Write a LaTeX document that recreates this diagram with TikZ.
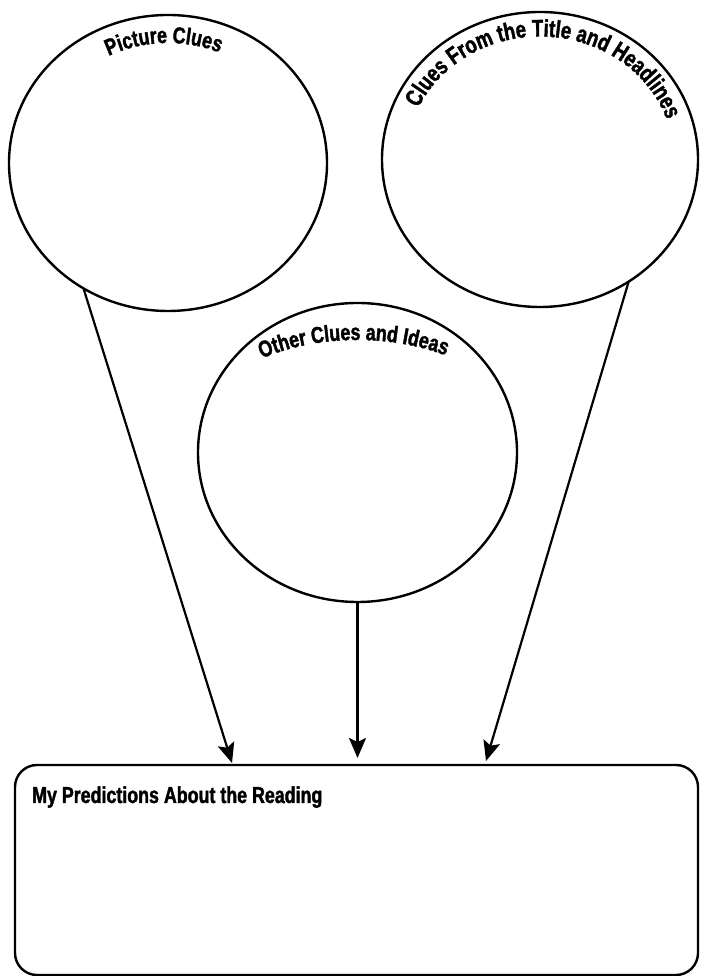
\documentclass[tikz,border=0pt]{standalone}
\usepackage{fontspec}
\usetikzlibrary{shapes.geometric,arrows.meta,decorations.text}
\newfontfamily\labfam[FakeStretch=0.775,FakeBold=1.6]{Liberation Sans}
\newcommand\labfont{\labfam\bfseries\fontsize{23pt}{26pt}\selectfont}
\newcommand\labfontbig{\labfam\bfseries\fontsize{24pt}{27pt}\selectfont}
\begin{document}
\begin{tikzpicture}[x=1pt,y=1pt,
  bubble/.style={ellipse, draw, line width=2.4pt, inner sep=0pt, outer sep=0pt},
  conn/.style={line width=2.2pt, -{Stealth[length=20pt,width=17pt,inset=4pt]}},
  arctext/.style={decorate, decoration={text along path, text align=center, text={|\labfont|#1}}},
  arctextbig/.style={decorate, decoration={text along path, text align=center, text={|\labfontbig|#1}}}
]
\useasboundingbox (0,0) rectangle (701,976);
% bubbles
\node[bubble, minimum width=318pt, minimum height=296pt] (L) at (168,813) {};
\node[bubble, minimum width=316pt, minimum height=295pt] (R) at (540,816.5) {};
\node[bubble, minimum width=319pt, minimum height=299pt] (M) at (357.5,523.5) {};
% prediction box
\node[draw, line width=2.4pt, rounded corners=22pt, minimum width=683pt, minimum height=210pt, inner sep=0pt] (B) at (356.5,106) {};
\node[anchor=base west, font=\labfont, inner sep=0pt] (T) at (32,173) {My Predictions About the Reading};
% curved titles
\path[arctext={Picture Clues}] (L.center) ++(184:131pt and 120pt) arc[start angle=184, end angle=0, x radius=131pt, y radius=120pt];
\path[arctextbig={Clues From the Title and Headlines}] (R.center) ++(178:134pt and 123pt) arc[start angle=178, end angle=-4, x radius=134pt, y radius=123pt];
\path[arctext={Other Clues and Ideas}] (M.center) ++(182:174pt and 112.5pt) arc[start angle=182, end angle=2, x radius=174pt, y radius=112.5pt];
% connectors
\coordinate (t1) at (232,213);
\coordinate (t2) at (357.5,218);
\coordinate (t3) at (486,215);
\draw[conn] (L.-124) -- (t1);
\draw[conn] (M.south) -- (t2);
\draw[conn] (R.-54) -- (t3);
\end{tikzpicture}
\end{document}
